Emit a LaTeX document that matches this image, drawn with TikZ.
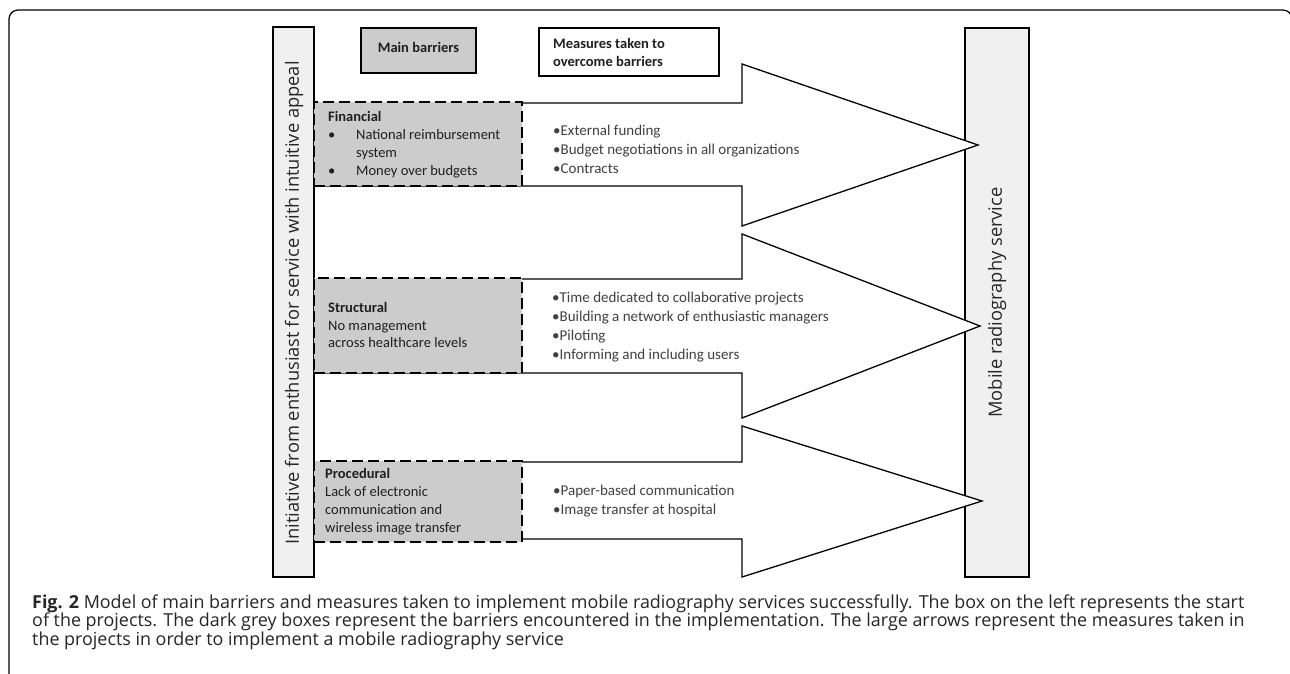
\documentclass[tikz,border=0pt]{standalone}
\usepackage{fontspec}
\setmainfont{Carlito}
\newfontfamily\segoe{Open Sans}
\newfontfamily\capfont{Open Sans}
\begin{document}
\begin{tikzpicture}[x=1pt,y=-1pt,
  frame/.style={line width=1.2pt, rounded corners=9pt},
  sidebox/.style={draw, line width=1.3pt, fill=black!6, inner sep=0pt},
  headbox/.style={draw, line width=1.3pt, inner sep=0pt},
  dbox/.style={draw, line width=2.2pt, dash pattern=on 11pt off 5pt, fill=black!20, inner sep=0pt},
  bigarrow/.style={draw, line width=1.3pt, fill=white, line join=miter},
  mtext/.style={anchor=west, align=left, text=black!75, font=\fontsize{15}{19}\selectfont, inner sep=0pt},
  btext/.style={anchor=west, align=left, text=black!88, font=\fontsize{14.5}{17.8}\selectfont, inner sep=0pt},
  vtext/.style={rotate=90, text=black!85, font=\segoe\fontsize{18.3}{20}\selectfont, inner sep=0pt}]
\useasboundingbox (0,0) rectangle (1290,674);
\fill[white] (0,0) rectangle (1290,674);
% outer frame
\draw[frame] (9,690) -- (9,10) -- (1292,10) -- (1292,690);
% right box
\node[sidebox, minimum width=64, minimum height=549] (goal) at (997,302.5) {};
\node[vtext] (goaltext) at (goal.center) {Mobile radiography service};
% big arrows
\draw[bigarrow] (314,103) -- (742,103) -- (742,64) -- (978,145) -- (742,226) -- (742,186) -- (314,186) -- cycle;
\draw[bigarrow] (314,279) -- (742,279) -- (742,234) -- (980,326) -- (742,418) -- (742,373) -- (314,373) -- cycle;
\draw[bigarrow] (314,462) -- (742,462) -- (742,426) -- (982,501) -- (742,577) -- (742,539) -- (314,539) -- cycle;
% left box
\node[sidebox, minimum width=41, minimum height=550] (init) at (293.5,302) {};
\node[vtext] (inittext) at (294,303) {Initiative from enthusiast for service with intuitive appeal};
% header boxes
\node[headbox, fill=black!20, minimum width=115, minimum height=45] (mainb) at (418.5,50.5) {};
\node[font=\bfseries\fontsize{14.5}{17}\selectfont, text=black!88, inner sep=0pt] (mainbtext) at (418.5,47) {Main barriers};
\node[headbox, fill=white, minimum width=180, minimum height=48] (meas) at (629,52) {};
\node[btext, font=\bfseries\fontsize{14.5}{18}\selectfont] (meastext) at (553,52) {Measures taken to\\overcome barriers};
% barrier boxes
\node[dbox, minimum width=208, minimum height=84] (fin) at (418,144) {};
\node[btext] (fintext) at (328,144.5) {\textbf{Financial}\\\makebox[28pt][l]{•}National reimbursement\\\hspace*{28pt}system\\\makebox[28pt][l]{•}Money over budgets};
\node[dbox, minimum width=208, minimum height=95] (str) at (418,325.5) {};
\node[btext] (strtext) at (328,325) {\textbf{Structural}\\No management\\across healthcare levels};
\node[dbox, minimum width=208, minimum height=81] (pro) at (418,501.5) {};
\node[btext] (protext) at (325,501.5) {\textbf{Procedural}\\Lack of electronic\\communication and\\wireless image transfer};
% measures
\node[mtext] (m1) at (553,149) {•External funding\\•Budget negotiations in all organizations\\•Contracts};
\node[mtext] (m2) at (552,327.5) {•Time dedicated to collaborative projects\\•Building a network of enthusiastic managers\\•Piloting\\•Informing and including users};
\node[mtext] (m3) at (553,501.5) {•Paper-based communication\\•Image transfer at hospital};
% caption
\node[anchor=west, align=left, inner sep=0pt, text=black!85, font=\capfont\fontsize{17.9}{18.6}\selectfont] (caption) at (32,622) {\textbf{Fig. 2} Model of main barriers and measures taken to implement mobile radiography services successfully. The box on the left represents the start\\of the projects. The dark grey boxes represent the barriers encountered in the implementation. The large arrows represent the measures taken in\\the projects in order to implement a mobile radiography service};
\end{tikzpicture}
\end{document}
